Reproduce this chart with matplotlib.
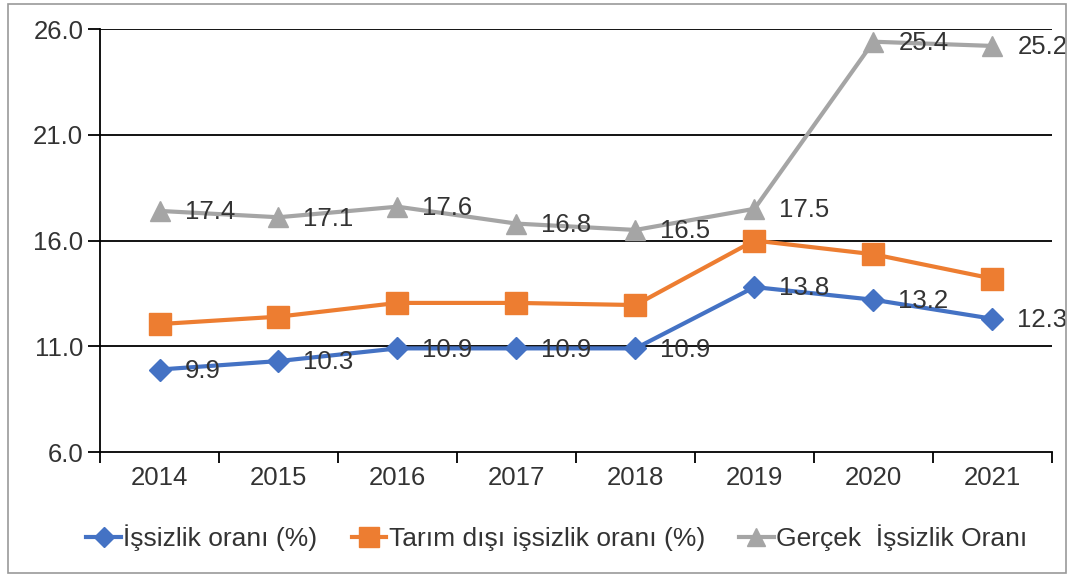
import matplotlib
matplotlib.use("Agg")
import matplotlib.pyplot as plt
import numpy as np
from matplotlib.patches import Rectangle

plt.rcParams['font.family'] = ['Liberation Sans', 'DejaVu Sans']

years = ['2014', '2015', '2016', '2017', '2018', '2019', '2020', '2021']
issizlik = [9.9, 10.3, 10.9, 10.9, 10.9, 13.8, 13.2, 12.3]
tarim_disi = [12.05, 12.4, 13.05, 13.05, 12.95, 16.0, 15.35, 14.2]
gercek = [17.4, 17.1, 17.6, 16.8, 16.5, 17.5, 25.4, 25.2]

blue = '#4472C4'
orange = '#ED7D31'
gray = '#A5A5A5'
txt = '#333333'
fs = 18.5

fig = plt.figure(figsize=(10.73, 5.77), dpi=100)
ax = fig.add_axes([0.0932, 0.2166, 0.8872, 0.7331])
x = np.arange(len(years))

# grid lines first so the series sit on top
for yv in [11, 16, 21, 26]:
    ax.axhline(yv, color='black', lw=1.3, zorder=1)

ax.plot(x, issizlik, color=blue, lw=3, marker='D', ms=11, label='İşsizlik oranı (%)', zorder=3)
ax.plot(x, tarim_disi, color=orange, lw=3, marker='s', ms=16, label='Tarım dışı işsizlik oranı (%)', zorder=3)
ax.plot(x, gercek, color=gray, lw=3, marker='^', ms=15, label='Gerçek  İşsizlik Oranı', zorder=3)

for xi, v in zip(x, issizlik):
    ax.annotate(f'{v:.1f}', (xi, v), xytext=(18, -1), textcoords='offset points',
                ha='left', va='center', fontsize=fs, color=txt, zorder=4)
for xi, v in zip(x, gercek):
    ax.annotate(f'{v:.1f}', (xi, v), xytext=(18, -1), textcoords='offset points',
                ha='left', va='center', fontsize=fs, color=txt, zorder=4)

ax.set_xlim(-0.5, 7.5)
ax.set_ylim(6, 26)
ax.set_yticks([6, 11, 16, 21, 26])
ax.set_yticklabels(['6.0', '11.0', '16.0', '21.0', '26.0'])
ax.set_xticks(x)
ax.set_xticklabels(years)
ax.set_xticks(np.arange(-0.5, 8, 1), minor=True)
ax.tick_params(axis='x', which='major', length=0, pad=10, labelsize=fs, labelcolor=txt)
ax.tick_params(axis='x', which='minor', length=8, width=1.3, direction='out', color='black')
ax.tick_params(axis='y', length=9, width=1.3, direction='out', pad=3, labelsize=fs, labelcolor=txt, color='black')

for s in ['top', 'right']:
    ax.spines[s].set_visible(False)
for s in ['left', 'bottom']:
    ax.spines[s].set_color('black')
    ax.spines[s].set_linewidth(1.3)

fig.legend(loc='center', bbox_to_anchor=(0.519, 0.0676), ncol=3, frameon=False,
           fontsize=19, handlelength=1.3, handletextpad=0.1, columnspacing=1.3,
           labelcolor=txt, markerscale=0.9)

fig.patches.append(Rectangle((8 / 1073, 4 / 577), 1058 / 1073, 569 / 577,
                             transform=fig.transFigure, fill=False,
                             edgecolor='#999999', lw=1.2))

fig.savefig('out.png', dpi=100)
